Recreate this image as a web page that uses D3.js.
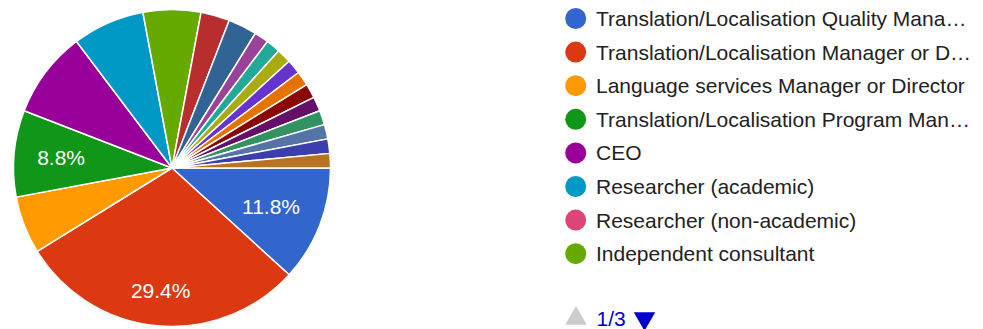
<!DOCTYPE html>
<html>
<head>
<meta charset="utf-8">
<script src="https://cdn.jsdelivr.net/npm/d3@7"></script>
<style>
  html, body { margin: 0; padding: 0; background: #fff; }
  svg { display: block; font-family: "Liberation Sans", Arial, sans-serif; }
</style>
</head>
<body>
<svg id="chart" width="983" height="329"></svg>
<script>
// Responses by role (respondent counts)
const categories = [
  "Translation/Localisation Quality Manager",
  "Translation/Localisation Manager or Director",
  "Language services Manager or Director",
  "Translation/Localisation Program Manager",
  "CEO",
  "Researcher (academic)",
  "Researcher (non-academic)",
  "Independent consultant",
  "Other role 9", "Other role 10", "Other role 11", "Other role 12",
  "Other role 13", "Other role 14", "Other role 15", "Other role 16",
  "Other role 17", "Other role 18", "Other role 19", "Other role 20",
  "Other role 21"
];
const counts = [8, 20, 4, 6, 6, 5, 0, 4, 2, 2, 1, 1, 1, 1, 1, 1, 1, 1, 1, 1, 1];
const palette = [
  "#3366cc", "#dc3912", "#ff9900", "#109618", "#990099", "#0099c6",
  "#dd4477", "#66aa00", "#b82e2e", "#316395", "#994499", "#22aa99",
  "#aaaa11", "#6633cc", "#e67300", "#8b0707", "#651067", "#329262",
  "#5574a6", "#3b3eac", "#b77322"
];
// Slices that carry a percentage label
const labelledSlices = [0, 1, 3];
const legendPageSize = 8;
const legendPage = 1;

const svg = d3.select("#chart");
const cx = 172, cy = 168, R = 158.5;

const total = d3.sum(counts);
const color = d3.scaleOrdinal().domain(categories).range(palette);
const data = categories.map((c, i) => ({ name: c, value: counts[i], i }));

// Start at 3 o'clock and run clockwise
const pie = d3.pie().value(d => d.value).sort(null)
  .startAngle(Math.PI / 2).endAngle(Math.PI / 2 + 2 * Math.PI);
const arcs = pie(data);
const arc = d3.arc().innerRadius(0).outerRadius(R);

const g = svg.append("g").attr("transform", `translate(${cx},${cy})`);
g.selectAll("path.slice")
  .data(arcs.filter(a => a.data.value > 0))
  .join("path")
  .attr("class", "slice")
  .attr("d", arc)
  .attr("fill", d => color(d.data.name))
  .attr("stroke", "#fff")
  .attr("stroke-width", 1.5)
  .attr("stroke-linejoin", "round");

// Percentage labels, pushed outward until the box's far corner reaches K
const fmt = d3.format(".1%");
const K = 136;
const labelG = g.append("g");
arcs.filter(a => labelledSlices.includes(a.data.i)).forEach(a => {
  const mid = (a.startAngle + a.endAngle) / 2;
  const ux = Math.sin(mid), uy = -Math.cos(mid);
  const t = labelG.append("text")
    .attr("fill", "#fff")
    .attr("font-size", 21)
    .attr("text-anchor", "middle")
    .text(fmt(a.data.value / total));
  const bb = t.node().getBBox();
  const hw = bb.width / 2, hh = 7.5;
  const b = Math.abs(ux) * hw + Math.abs(uy) * hh;
  const d = -b + Math.sqrt(b * b - (hw * hw + hh * hh - K * K));
  t.attr("x", ux * d).attr("y", uy * d).attr("dy", "0.36em");
});

// Legend (first page)
const legendX = 575.7, legendY0 = 18.5, legendStep = 33.6, textX = 596, maxTextW = 377;
const pageItems = data.slice((legendPage - 1) * legendPageSize, legendPage * legendPageSize);
const leg = svg.append("g");
pageItems.forEach((d, k) => {
  const y = legendY0 + k * legendStep;
  leg.append("circle").attr("cx", legendX).attr("cy", y).attr("r", 10.5)
    .attr("fill", color(d.name));
  const t = leg.append("text").attr("x", textX).attr("y", y).attr("dy", "0.36em")
    .attr("font-size", 21).attr("fill", "#222").text(d.name);
  // Shorten long names with an ellipsis
  let s = d.name;
  if (t.node().getComputedTextLength() > maxTextW) {
    while (s.length > 1) {
      s = s.slice(0, -1);
      t.text(s.trimEnd() + "…");
      if (t.node().getComputedTextLength() <= maxTextW) break;
    }
  }
});

// Pager
const pages = Math.ceil(categories.length / legendPageSize);
const pager = svg.append("g");
const tri = d3.symbol().type(d3.symbolTriangle).size(200);
pager.append("path").attr("d", tri())
  .attr("transform", "translate(576,318.5)").attr("fill", "#cccccc");
pager.append("text").attr("x", 596.5).attr("y", 318).attr("dy", "0.36em")
  .attr("font-size", 21).attr("fill", "#0000cc").text(`${legendPage}/${pages}`);
pager.append("path").attr("d", tri())
  .attr("transform", "translate(644.5,318.5) rotate(180)").attr("fill", "#0000cc");
</script>
</body>
</html>
